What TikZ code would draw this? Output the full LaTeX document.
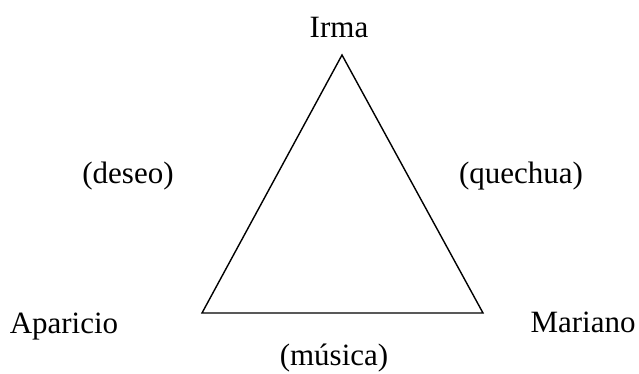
\documentclass[tikz,border=0pt]{standalone}
\usepackage{fontspec}
\setmainfont{Liberation Serif}
\begin{document}
\begin{tikzpicture}[x=1pt,y=-1pt,
  lbl/.style={anchor=base,inner sep=0pt,font=\fontsize{31}{37}\selectfont},
  edge/.style={line width=1.4pt,line join=miter}]
\useasboundingbox (0,0) rectangle (639,373);
\coordinate (top) at (342,55);
\coordinate (bl) at (202,313);
\coordinate (br) at (483,313);
\draw[edge] (top) -- (bl) -- (br) -- cycle;
\node[lbl] (irma) at (339,37) {Irma};
\node[lbl] (deseo) at (128,183) {(deseo)};
\node[lbl] (quechua) at (521,183) {(quechua)};
\node[lbl] (aparicio) at (64,333) {Aparicio};
\node[lbl] (mariano) at (583,332) {Mariano};
\node[lbl] (musica) at (334,365) {(música)};
\end{tikzpicture}
\end{document}
